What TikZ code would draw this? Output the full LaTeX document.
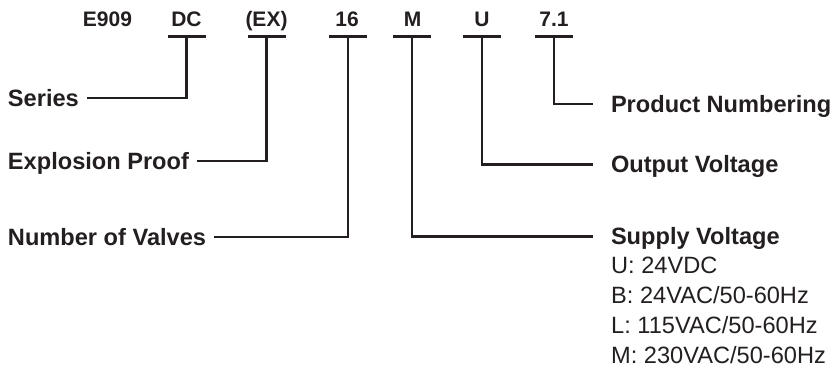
\documentclass[tikz,border=0pt]{standalone}
\usepackage{fontspec}
\setmainfont{Liberation Sans}
\definecolor{ink}{HTML}{231F20}
\begin{document}
\begin{tikzpicture}[x=1pt,y=-1pt,
  code/.style={font=\fontsize{21}{24}\selectfont\bfseries, text=ink, inner sep=0pt, anchor=base},
  lablft/.style={font=\fontsize{23.6}{28}\selectfont\bfseries, text=ink, inner xsep=8pt, inner ysep=0pt, text height=16.9pt, text depth=0pt, outer sep=0pt, anchor=west},
  labrgt/.style={lablft, inner xsep=18pt},
  opt/.style={font=\fontsize{23.6}{28}\selectfont, text=ink, inner sep=0pt, anchor=base west},
  link/.style={draw=ink, line width=2.4pt},
  uline/.style={draw=ink, line width=2.4pt},
]
\useasboundingbox (0,0) rectangle (835,374);
% code row
\node[code] (c0) at (107.5,27) {E909};
\node[code] (c1) at (186.5,27) {DC};
\node[code] (c2) at (266.5,27) {(EX)};
\node[code] (c3) at (347,27) {16};
\node[code] (c4) at (412.5,27) {M};
\node[code] (c5) at (482,27) {U};
\node[code] (c6) at (554,27) {7.1};
% underline anchors
\coordinate (u1) at (186.5,36.5);
\coordinate (u2) at (266.5,36.5);
\coordinate (u3) at (348,36.5);
\coordinate (u4) at (412,36.5);
\coordinate (u5) at (482,36.5);
\coordinate (u6) at (554,36.5);
\foreach \u in {u1,u2,u3,u4,u5,u6}{
  \draw[uline] ([xshift=-19pt]\u) -- ([xshift=19pt]\u);
}
% left labels
\node[lablft] (series) at (0,98) {Series};
\node[lablft] (explo) at (0,161) {Explosion Proof};
\node[lablft] (valves) at (0,237) {Number of Valves};
% right labels
\node[labrgt] (prodnum) at (593,104) {Product Numbering};
\node[labrgt] (outv) at (593,164.5) {Output Voltage};
\node[labrgt] (supv) at (593,236.5) {Supply Voltage};
% options
\node[opt] (o1) at (611,273.5) {U: 24VDC};
\node[opt] (o2) at (611,303.5) {B: 24VAC/50-60Hz};
\node[opt] (o3) at (611,333.5) {L: 115VAC/50-60Hz};
\node[opt] (o4) at (611,363.5) {M: 230VAC/50-60Hz};
% connectors
\draw[link] (u1) |- (series.east);
\draw[link] (u2) |- (explo.east);
\draw[link] (u3) |- (valves.east);
\draw[link] (u4) |- (supv.west);
\draw[link] (u5) |- (outv.west);
\draw[link] (u6) |- (prodnum.west);
\end{tikzpicture}
\end{document}
